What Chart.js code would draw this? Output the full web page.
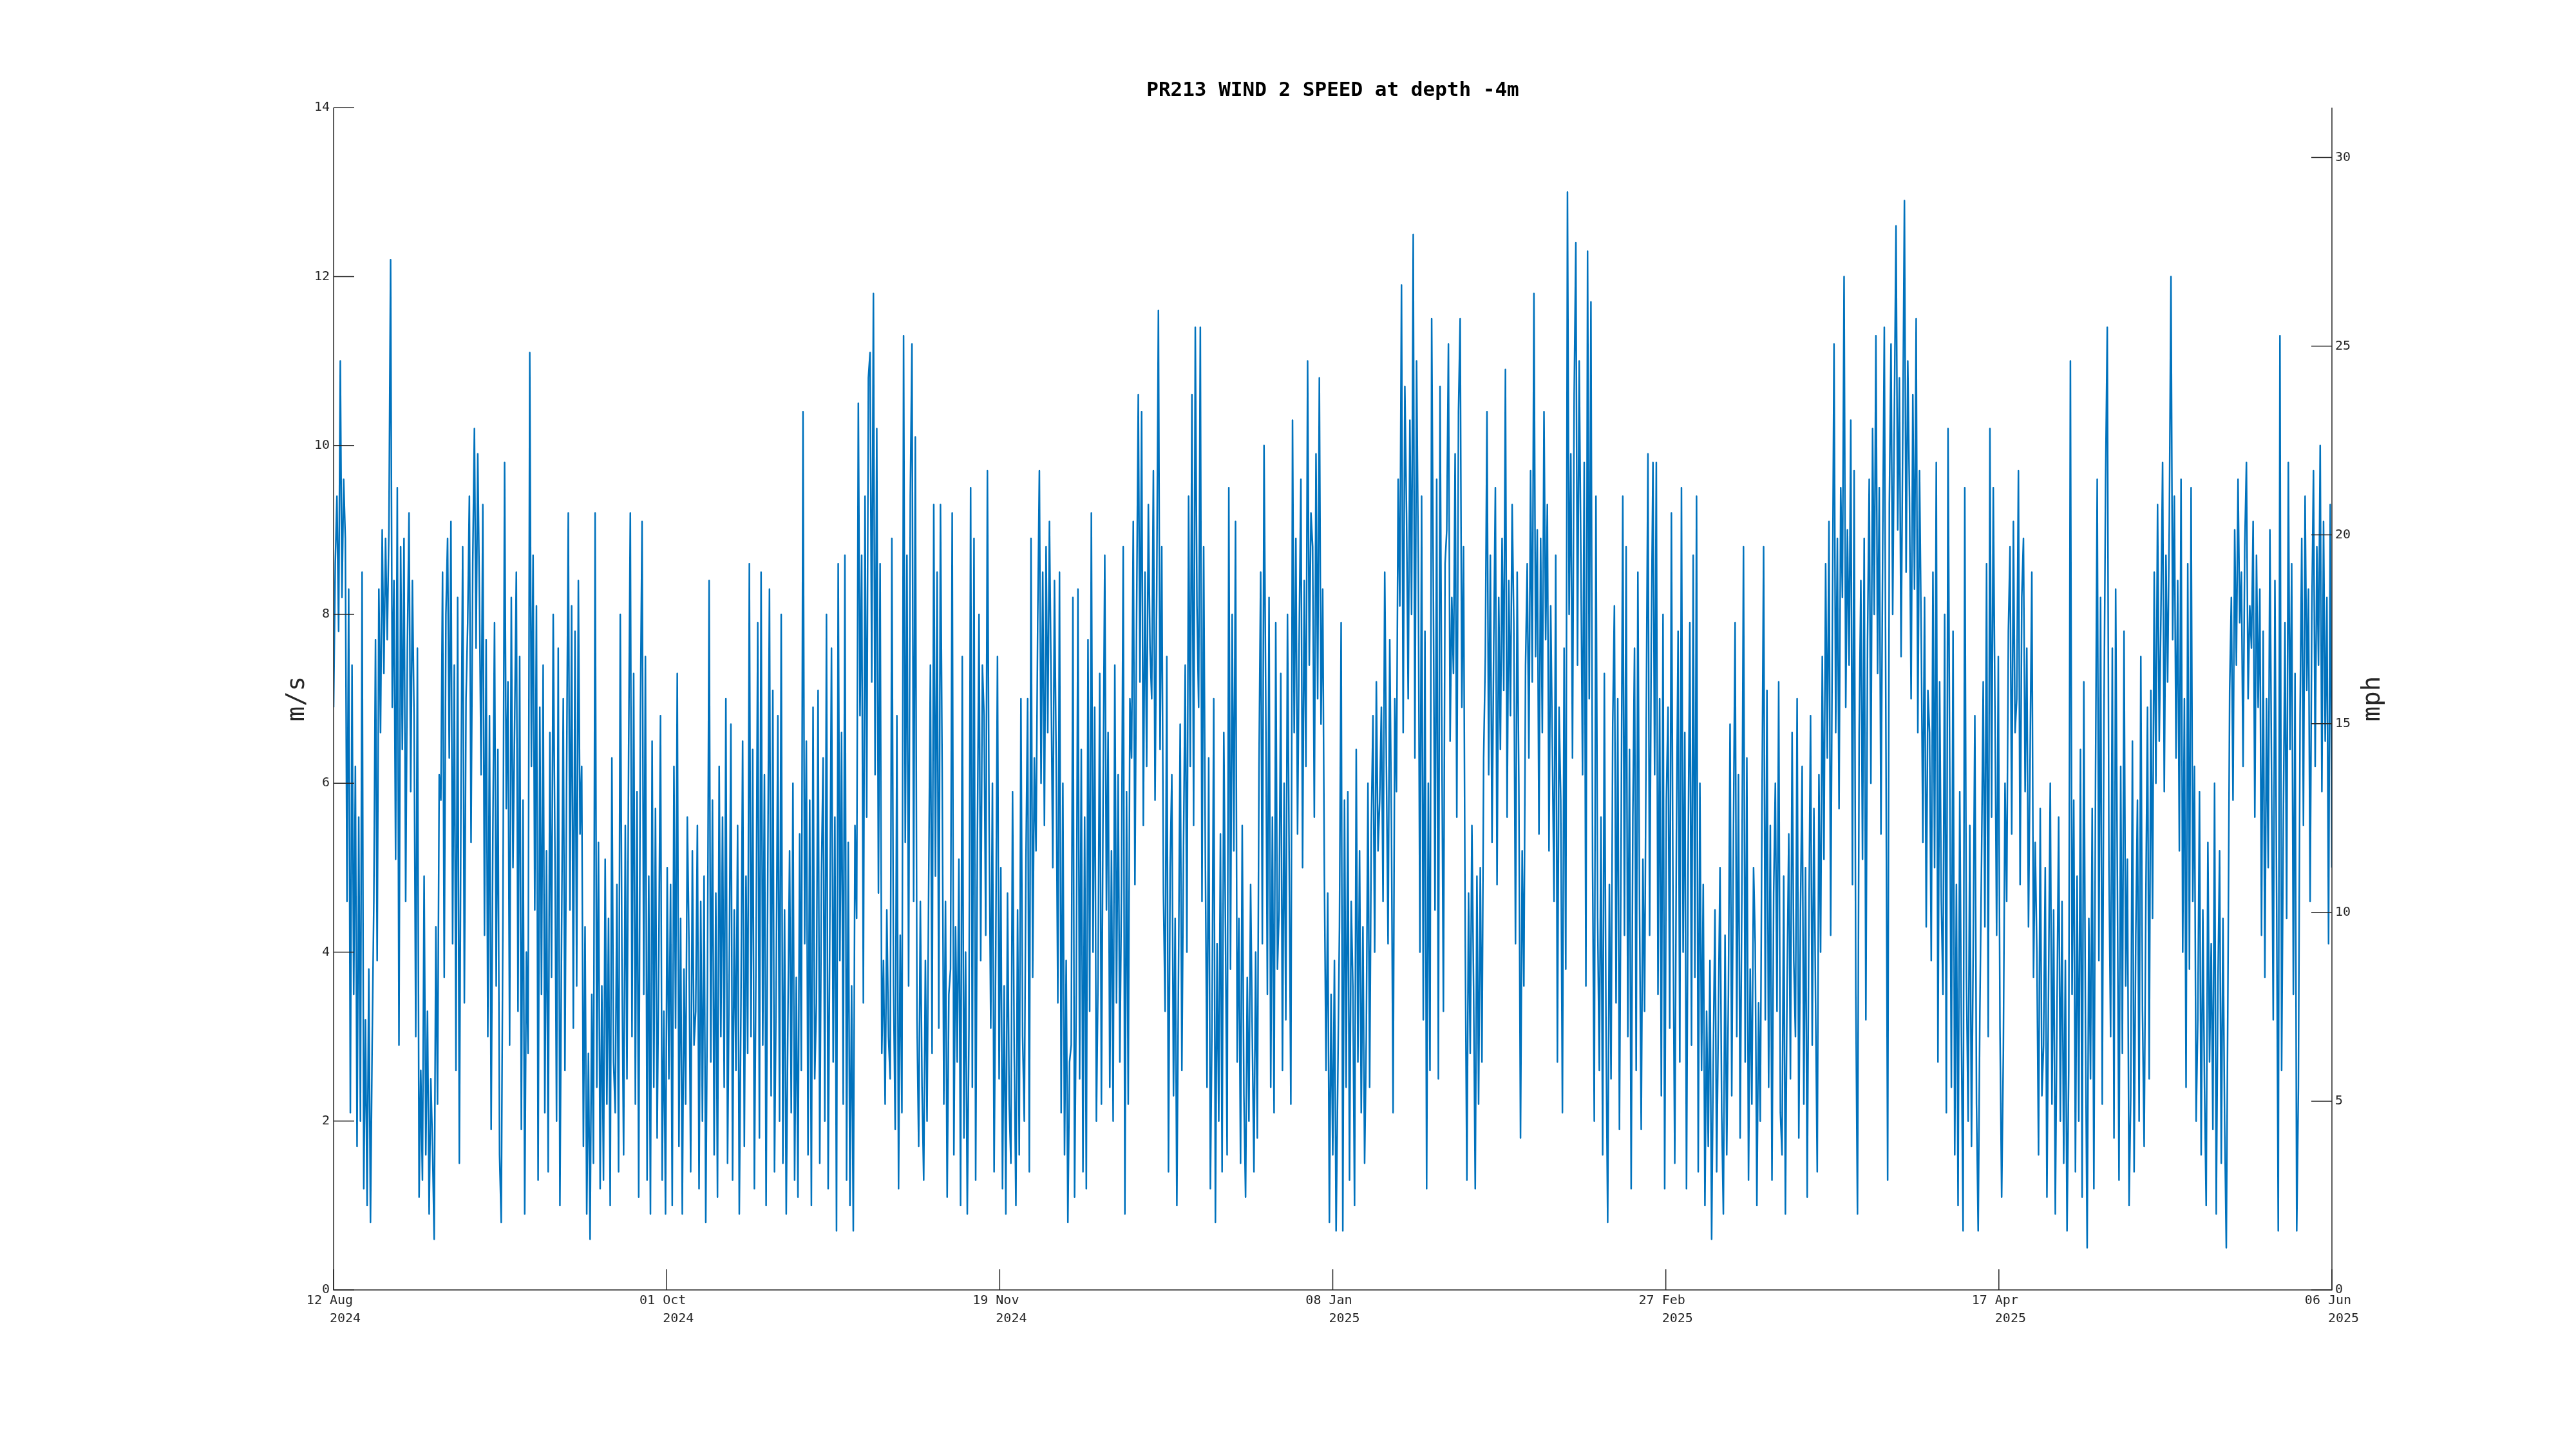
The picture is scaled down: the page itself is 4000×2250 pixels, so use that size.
<!DOCTYPE html>
<html><head><meta charset="utf-8">
<script src="https://cdn.jsdelivr.net/npm/chart.js@4.4.1/dist/chart.umd.min.js"></script>
<style>html,body{margin:0;padding:0;background:#fff;}#wrap{width:4000px;height:2250px;}</style>
</head><body><div id="wrap"><canvas id="c" width="4000" height="2250"></canvas></div>
<script>
const chartTitle = "PR213 WIND 2 SPEED at depth -4m";
const leftLabel = "m/s";
const rightLabel = "mph";
const tickDates = ["12 Aug","01 Oct","19 Nov","08 Jan","27 Feb","17 Apr","06 Jun"];
const tickYears = ["2024","2024","2024","2025","2025","2025","2025"];
const msTicks = [0,2,4,6,8,10,12,14];
const mphTicks = [0,5,10,15,20,25,30];
const spanDays = 298;
const samplesPerDay = 4;
const MS_TO_MPH = 2.23694;

// wind speed (m/s), 6-hourly, starting 12 Aug 2024 00:00
const aug = [6.9,8.6,9.4,7.8, 11.0,8.2,9.6,8.9, 4.6,8.3,2.1,7.4, 3.5,6.2,1.7,5.6, 2.0,8.5,1.2,3.2, 1.0,3.8,0.8,2.9, 4.6,7.7,3.9,8.3, 6.6,9.0,7.3,8.9, 7.7,9.0,12.2,6.9, 8.4,5.1,9.5,2.9, 8.8,6.4,8.9,4.6, 7.6,9.2,5.9,8.4, 6.8,3.0,7.6,1.1, 2.6,1.3,4.9,1.6, 3.3,0.9,2.5,1.7, 0.6,4.3,2.2,6.1, 5.8,8.5,3.7,8.0, 8.9,6.3,9.1,4.1, 7.4,2.6,8.2,1.5, 5.9,8.8,3.4,7.0];
const sep = [7.9,9.4,5.3,8.6, 10.2,7.6,9.9,8.2, 6.1,9.3,4.2,7.7, 3.0,6.8,1.9,5.4, 7.9,3.6,6.4,1.6, 0.8,4.4,9.8,5.7, 7.2,2.9,8.2,5.0, 6.7,8.5,3.3,7.5, 1.9,5.8,0.9,4.0, 2.8,11.1,6.2,8.7, 4.5,8.1,1.3,6.9, 3.5,7.4,2.1,5.2, 1.4,6.6,3.7,8.0, 5.3,2.0,7.6,1.0, 4.2,7.0,2.6,6.1, 9.2,4.5,8.1,3.1, 7.8,3.6,8.4,5.4, 6.2,1.7,4.3,0.9, 2.8,0.6,3.5,1.5, 9.2,2.4,5.3,1.2, 3.6,1.3,5.1,2.2, 4.4,1.0,6.3,2.7, 2.1,4.8,1.4,8.0, 3.9,1.6,5.5,2.5, 6.4,9.2,3.0,7.3, 2.2,5.9,1.1,6.8, 9.1,3.5,7.5,1.3, 4.9,0.9,6.5,2.4, 5.7,1.8,4.0,6.8, 1.3,3.3,0.9,5.0];
const oct = [2.5,4.8,1.0,6.2, 3.1,7.3,1.7,4.4, 0.9,3.8,2.2,5.6, 4.1,1.4,5.2,2.9, 3.3,5.5,1.2,4.6, 2.0,4.9,0.8,3.6, 8.4,2.7,5.8,1.6, 4.7,1.1,6.2,3.0, 5.6,2.4,7.0,1.5, 3.8,6.7,1.3,4.5, 2.6,5.5,0.9,3.4, 6.5,1.7,4.9,2.8, 8.6,3.0,6.4,1.2, 4.0,7.9,1.8,8.5, 2.9,6.1,1.0,5.0, 8.3,2.3,7.1,1.4, 3.6,6.8,2.0,8.0, 1.5,4.5,0.9,3.2, 5.2,2.1,6.0,1.3, 3.7,1.1,5.4,2.6, 10.4,4.1,6.5,1.6, 5.8,1.0,6.9,2.5, 3.4,7.1,1.5,4.9, 6.3,2.0,8.0,1.2, 4.3,7.6,2.7,5.6, 0.7,8.6,3.9,6.6, 2.2,8.7,1.3,5.3, 1.0,3.6,0.7,5.5, 4.4,10.5,6.8,8.7, 3.4,9.4,5.6,10.8, 11.1,7.2,11.8,6.1];
const nov = [10.2,4.7,8.6,2.8, 3.9,2.2,4.5,3.0, 2.5,8.9,3.6,1.9, 6.8,1.2,4.2,2.1, 11.3,5.3,8.7,3.6, 9.4,11.2,4.6,10.1, 3.2,1.7,4.6,2.4, 1.3,3.9,2.0,4.9, 7.4,2.8,9.3,4.9, 8.5,3.1,9.3,6.2, 2.2,4.6,1.1,3.5, 3.8,9.2,1.6,4.3, 2.7,5.1,1.0,7.5, 1.8,4.0,0.9,3.1, 9.5,2.4,8.9,1.3, 5.3,8.0,3.9,7.4, 6.8,4.2,9.7,5.6, 3.1,6.0,1.4,4.1, 7.5,2.5,5.0,1.2, 3.6,0.9,4.7,2.2, 1.5,5.9,2.8,1.0, 4.5,1.6,7.0,3.0, 2.0,5.1,7.0,1.4, 8.9,3.7,6.3,5.2, 7.9,9.7,6.0,8.5, 5.5,8.8,6.6,9.1, 7.2,5.0,8.4,6.3, 3.4,8.5,2.1,6.0, 1.6,3.9,0.8,2.7, 2.9,8.2,1.1,3.5];
const dec = [8.3,2.5,6.4,1.4, 5.6,1.2,7.7,3.3, 9.2,4.0,6.9,2.0, 3.7,7.3,2.2,5.8, 8.7,4.5,6.6,2.4, 5.2,2.0,7.4,3.4, 6.1,2.7,4.8,8.8, 0.9,5.9,2.2,7.0, 6.3,9.1,4.8,8.0, 10.6,7.2,10.4,5.5, 8.5,6.2,9.3,7.6, 7.0,9.7,5.8,8.3, 11.6,6.4,8.8,4.7, 3.3,7.5,1.4,5.0, 6.1,2.3,4.4,1.0, 3.8,6.7,2.6,5.3, 7.4,4.0,9.4,6.2, 10.6,5.5,11.4,8.1, 6.9,11.4,4.6,8.8, 5.1,2.4,6.3,1.2, 3.2,7.0,0.8,4.1, 2.0,5.4,1.4,6.6, 4.3,1.6,9.5,3.8, 8.0,5.2,9.1,2.7, 4.4,1.5,5.5,2.3, 1.1,3.7,2.0,4.8, 3.0,1.4,4.0,1.8, 6.2,8.5,4.1,10.0, 7.1,3.5,8.2,2.4, 5.6,2.1,7.9,3.8, 4.5,7.3,2.6,6.0];
const jan = [3.2,8.0,5.1,2.2, 10.3,6.6,8.9,5.4, 7.8,9.6,5.0,8.4, 6.2,11.0,7.4,9.2, 8.8,5.6,9.9,7.0, 10.8,6.7,8.3,4.9, 2.6,4.7,0.8,3.5, 1.6,3.9,0.7,2.5, 4.3,7.9,0.7,5.8, 2.4,5.9,1.3,4.6, 3.6,1.0,6.4,2.7, 5.2,2.1,4.3,1.5, 3.0,6.0,2.4,5.5, 6.8,4.0,7.2,5.2, 5.8,6.9,4.6,8.5, 6.2,4.1,7.7,5.5, 2.1,7.0,5.9,9.6, 8.1,11.9,6.6,10.7, 9.2,7.0,10.3,8.0, 12.5,6.3,11.0,8.7, 4.0,9.4,3.2,7.8, 1.2,6.0,2.6,11.5, 8.3,4.5,9.6,2.5, 10.7,6.8,3.3,8.6, 9.0,11.2,6.5,8.2, 7.3,9.9,5.6,10.4, 11.5,6.9,8.8,4.2, 1.3,4.7,2.8,5.5, 3.6,1.2,4.9,2.2, 5.0,2.7,6.3,7.5, 10.4,6.1,8.7,5.3];
const feb = [7.6,9.5,4.8,8.2, 6.4,8.9,7.1,10.9, 5.6,8.4,6.8,9.3, 7.9,4.1,8.5,6.0, 1.8,5.2,3.6,7.4, 8.6,6.3,9.7,7.2, 11.8,7.5,9.0,5.4, 8.9,6.6,10.4,7.7, 9.3,5.2,8.1,6.4, 4.6,8.7,2.7,6.9, 5.8,2.1,7.6,3.8, 13.0,8.0,9.9,6.3, 10.6,12.4,7.4,11.0, 8.7,6.1,9.8,3.6, 12.3,7.0,11.7,5.0, 2.0,9.4,4.4,2.6, 5.6,1.6,7.3,3.1, 0.8,4.8,2.5,6.7, 8.1,3.4,7.0,1.9, 5.3,9.4,4.2,8.8, 3.0,6.4,1.2,5.6, 7.6,2.6,8.5,4.5, 1.9,5.1,3.3,6.8, 9.9,4.2,7.7,9.8, 6.1,9.8,3.5,7.0, 2.3,8.0,1.2,5.8, 6.9,3.1,9.2,4.4, 1.5,5.4,7.8,2.7];
const mar = [9.5,4.0,6.6,1.2, 5.2,7.9,2.9,8.7, 3.7,9.4,1.4,6.0, 2.6,4.8,1.0,3.3, 1.7,3.9,0.6,2.8, 4.5,1.4,3.2,5.0, 2.1,0.9,4.2,1.6, 3.5,6.7,2.3,5.4, 7.9,3.0,6.1,1.8, 4.6,8.8,2.7,6.3, 1.3,3.8,2.2,5.0, 4.1,1.0,3.4,2.0, 5.6,8.8,3.2,7.1, 2.4,5.5,1.3,4.7, 6.0,3.3,7.2,2.1, 1.6,4.9,0.9,3.6, 5.4,2.5,6.6,3.9, 3.0,7.0,1.8,4.5, 6.2,2.2,5.0,1.1, 4.3,6.8,2.9,5.7, 3.4,1.4,6.1,4.0, 7.5,5.1,8.6,6.3, 9.1,4.2,7.8,11.2, 6.6,8.9,5.7,9.5, 8.2,12.0,6.9,9.0, 7.4,10.3,4.8,9.7, 3.5,0.9,6.6,8.4, 5.1,8.9,3.2,7.7, 9.6,6.0,10.2,8.0, 11.3,7.3,9.5,5.4, 8.7,11.4,6.4,1.3];
const apr = [9.3,11.2,8.0,10.4, 12.6,9.0,10.8,7.5, 10.1,12.9,8.5,11.0, 9.4,7.0,10.6,8.3, 11.5,6.6,9.7,7.8, 5.3,8.2,4.3,7.1, 6.6,3.9,8.5,5.0, 9.8,2.7,7.2,4.6, 3.5,8.0,2.1,10.2, 6.3,2.4,7.8,1.6, 4.8,1.0,5.9,3.0, 0.7,9.5,3.7,2.0, 5.5,1.7,4.0,6.8, 2.2,0.7,3.3,5.1, 7.2,4.3,8.6,3.0, 10.2,5.6,9.5,6.9, 4.2,7.5,3.1,1.1, 2.8,6.0,4.6,7.8, 8.8,5.4,9.1,6.6, 7.0,9.7,4.8,8.2, 8.9,5.9,7.6,4.3, 6.4,8.5,3.7,5.3, 4.0,1.6,5.7,2.3, 2.9,5.0,1.1,3.7, 6.0,2.2,4.5,0.9, 3.3,5.6,2.0,4.6, 1.5,3.9,0.7,2.6, 11.0,3.5,5.8,1.4, 4.9,2.0,6.4,1.1, 7.2,3.1,0.5,4.4];
const may = [2.5,5.7,1.2,6.1, 9.6,3.9,8.2,2.2, 6.7,9.6,11.4,5.0, 3.0,7.6,1.8,8.3, 4.9,1.3,6.2,2.8, 7.8,3.6,5.1,1.0, 2.3,6.5,1.4,4.2, 5.8,2.0,7.5,3.3, 1.7,4.6,6.9,2.5, 7.1,4.4,8.5,6.0, 9.3,6.5,8.0,9.8, 5.9,8.7,7.2,9.1, 12.0,7.7,9.4,6.3, 8.4,5.2,9.6,4.0, 7.0,2.4,8.6,3.8, 9.5,4.6,6.2,2.0, 3.2,5.9,1.6,4.5, 2.4,1.0,5.3,2.7, 4.1,1.9,6.0,0.9, 3.6,5.2,1.5,4.4, 2.0,0.5,3.7,7.1, 8.2,5.8,9.0,7.4, 9.6,7.9,8.5,6.2, 8.8,9.8,7.0,8.1, 7.6,9.1,5.6,8.7, 6.9,8.3,4.2,7.8, 3.7,7.0,5.0,9.0, 6.1,3.2,8.4,4.7, 0.7,11.3,2.6,5.5, 7.9,4.4,9.8,6.4, 8.6,3.5,7.3,0.7];
const jun = [2.4,6.8,8.9,5.5, 9.4,7.1,8.3,4.6, 8.0,9.7,6.2,8.8, 7.4,10.0,5.9,9.1, 6.5,8.2,4.1,9.3, 5.0];

const speed = [].concat(aug, sep, oct, nov, dec, jan, feb, mar, apr, may, jun);
const points = speed.map((v, i) => ({x: i / samplesPerDay, y: v}));
const xTickValues = tickDates.map((_, k) => k * spanDays / (tickDates.length - 1));

const MONO = "'DejaVu Sans Mono', monospace";
const INK = '#262626';

const framePlugin = {
  id: 'frame',
  afterDatasetsDraw(chart) {
    const {ctx, chartArea: a, scales} = chart;
    const tl = 32;
    ctx.save();
    ctx.strokeStyle = INK;
    ctx.lineWidth = 1.5;
    ctx.beginPath();
    ctx.moveTo(a.left, a.top); ctx.lineTo(a.left, a.bottom);
    ctx.lineTo(a.right, a.bottom); ctx.lineTo(a.right, a.top);
    ctx.stroke();
    ctx.beginPath();
    scales.y.ticks.forEach(t => { const p = scales.y.getPixelForValue(t.value); ctx.moveTo(a.left, p); ctx.lineTo(a.left + tl, p); });
    scales.y2.ticks.forEach(t => { const p = scales.y2.getPixelForValue(t.value); ctx.moveTo(a.right - tl, p); ctx.lineTo(a.right, p); });
    scales.x.ticks.forEach(t => { const p = scales.x.getPixelForValue(t.value); ctx.moveTo(p, a.bottom); ctx.lineTo(p, a.bottom - tl); });
    ctx.stroke();
    // axis titles, reading bottom-to-top
    ctx.fillStyle = INK;
    ctx.font = "39px " + MONO;
    ctx.textAlign = 'center';
    ctx.textBaseline = 'alphabetic';
    const cy = (a.top + a.bottom) / 2;
    ctx.save(); ctx.translate(a.left - 46, cy); ctx.rotate(-Math.PI / 2); ctx.fillText(leftLabel, 0, 0); ctx.restore();
    ctx.save(); ctx.translate(a.right + 74, cy); ctx.rotate(-Math.PI / 2); ctx.fillText(rightLabel, 0, 0); ctx.restore();
    ctx.restore();
  }
};

new Chart(document.getElementById('c').getContext('2d'), {
  type: 'line',
  data: {datasets: [{
    data: points, yAxisID: 'y', borderColor: '#0072BD', borderWidth: 2.5,
    pointRadius: 0, tension: 0, fill: false, borderJoinStyle: 'round'
  }]},
  options: {
    responsive: false, animation: false, devicePixelRatio: 1, parsing: false, normalized: true,
    layout: {padding: 0},
    plugins: {
      legend: {display: false}, tooltip: {enabled: false},
      title: {display: true, fullSize: false, text: chartTitle, color: '#000',
        font: {family: MONO, size: 31, weight: 'bold', lineHeight: 1.2},
        padding: {top: 122, bottom: 8}}
    },
    scales: {
      x: {type: 'linear', position: 'bottom', min: 0, max: spanDays,
        grid: {display: false, drawTicks: false}, border: {display: false},
        afterBuildTicks: s => { s.ticks = xTickValues.map(v => ({value: v})); },
        afterFit: s => { s.height = 247; },
        ticks: {autoSkip: false, maxRotation: 0, minRotation: 0, padding: 3, color: INK,
          font: {family: MONO, size: 20, lineHeight: 1.4},
          callback: (v, i) => [tickDates[i] + ' ', '   ' + tickYears[i]]}},
      y: {type: 'linear', position: 'left', min: 0, max: 14,
        grid: {display: false, drawTicks: false}, border: {display: false},
        afterBuildTicks: s => { s.ticks = msTicks.map(v => ({value: v})); },
        afterFit: s => { s.width = 518; },
        ticks: {padding: 6, color: INK, font: {family: MONO, size: 20}}},
      y2: {type: 'linear', position: 'right', min: 0, max: 14 * MS_TO_MPH,
        grid: {display: false, drawTicks: false}, border: {display: false},
        afterBuildTicks: s => { s.ticks = mphTicks.map(v => ({value: v})); },
        afterFit: s => { s.width = 379; },
        ticks: {padding: 5, color: INK, font: {family: MONO, size: 20}}}
    }
  },
  plugins: [framePlugin]
});
</script>
</body></html>
